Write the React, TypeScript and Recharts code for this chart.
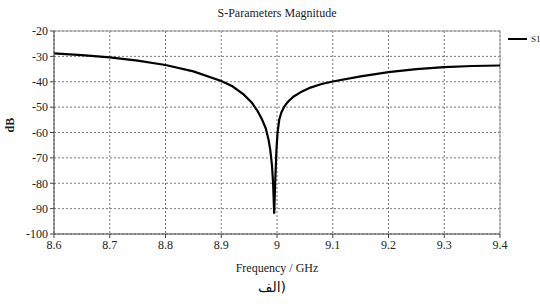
import { LineChart, Line, XAxis, YAxis, CartesianGrid, ReferenceLine, Label } from 'recharts';

const freqs = [
  8.6, 8.65, 8.7, 8.75, 8.8, 8.85, 8.9, 8.92, 8.94, 8.955, 8.965, 8.973, 8.98, 8.985, 8.988,
  8.991, 8.993, 8.995, 8.997, 8.999, 9.001, 9.004, 9.008, 9.014, 9.02, 9.03, 9.045, 9.06, 9.08,
  9.1, 9.15, 9.2, 9.25, 9.3, 9.35, 9.4,
];
const s11 = [
  -28.8, -29.5, -30.4, -31.7, -33.4, -35.9, -39.7, -41.8, -45, -48.3, -51.5, -54.8, -58.5, -63,
  -67, -73, -80, -92, -78, -67, -60, -55, -52, -49.5, -47.8, -45.8, -43.8, -42.3, -40.9, -39.9,
  -37.9, -36.2, -35, -34.2, -33.8, -33.6,
];
const xTicks = [8.6, 8.7, 8.8, 8.9, 9.0, 9.1, 9.2, 9.3, 9.4];
const yTicks = [-20, -30, -40, -50, -60, -70, -80, -90, -100];

const data = freqs.map((f, i) => ({ f, s11: s11[i] }));

const font = '"Liberation Serif", "DejaVu Serif", serif';

export default function App() {
  return (
    <div style={{ position: 'absolute', left: 0, top: 0, width: 540, height: 306, background: '#fff', overflow: 'hidden' }}>
      <div style={{ position: 'absolute', top: 6, left: 0, width: 554, textAlign: 'center', fontFamily: font, fontSize: 12, color: '#222' }}>
        S-Parameters Magnitude
      </div>
      <LineChart width={540} height={306} data={data} margin={{ top: 31, right: 40, left: 10, bottom: 42 }}>
        <CartesianGrid stroke="#777" strokeDasharray="2 2" />
        <XAxis
          dataKey="f"
          type="number"
          domain={[8.6, 9.4]}
          ticks={xTicks}
          tickFormatter={(v: number) => String(Number(v.toFixed(1)))}
          height={30}
          stroke="#444"
          tickSize={4}
          tick={{ fontFamily: font, fontSize: 12, fill: '#222' }}
        >
          <Label value="Frequency / GHz" position="insideBottom" offset={-8} style={{ fontFamily: font, fontSize: 12, fill: '#222' }} />
        </XAxis>
        <YAxis
          type="number"
          domain={[-100, -20]}
          ticks={yTicks}
          width={44}
          stroke="#444"
          tickSize={4}
          tick={{ fontFamily: font, fontSize: 12, fill: '#222' }}
        >
          <Label value="dB" angle={-90} position="insideLeft" offset={0} style={{ fontFamily: font, fontSize: 12, fill: '#222', fontWeight: 'bold' }} />
        </YAxis>
        <ReferenceLine y={-20} stroke="#999" strokeWidth={1} />
        <ReferenceLine x={9.4} stroke="#999" strokeWidth={1} />
        <Line
          type="linear"
          dataKey="s11"
          stroke="#000"
          strokeWidth={2.2}
          dot={false}
          isAnimationActive={false}
        />
      </LineChart>
      <div style={{ position: 'absolute', left: 508, top: 34, display: 'flex', alignItems: 'center', whiteSpace: 'nowrap' }}>
        <div style={{ width: 19, height: 0, borderTop: '2.5px solid #000' }} />
        <span style={{ marginLeft: 4, fontFamily: font, fontSize: 9, color: '#222' }}>S1,1</span>
      </div>
      <div style={{ position: 'absolute', top: 279, left: 0, width: 544, textAlign: 'center', fontFamily: '"DejaVu Sans", sans-serif', fontSize: 14, color: '#111' }}>
        الف)
      </div>
    </div>
  );
}
